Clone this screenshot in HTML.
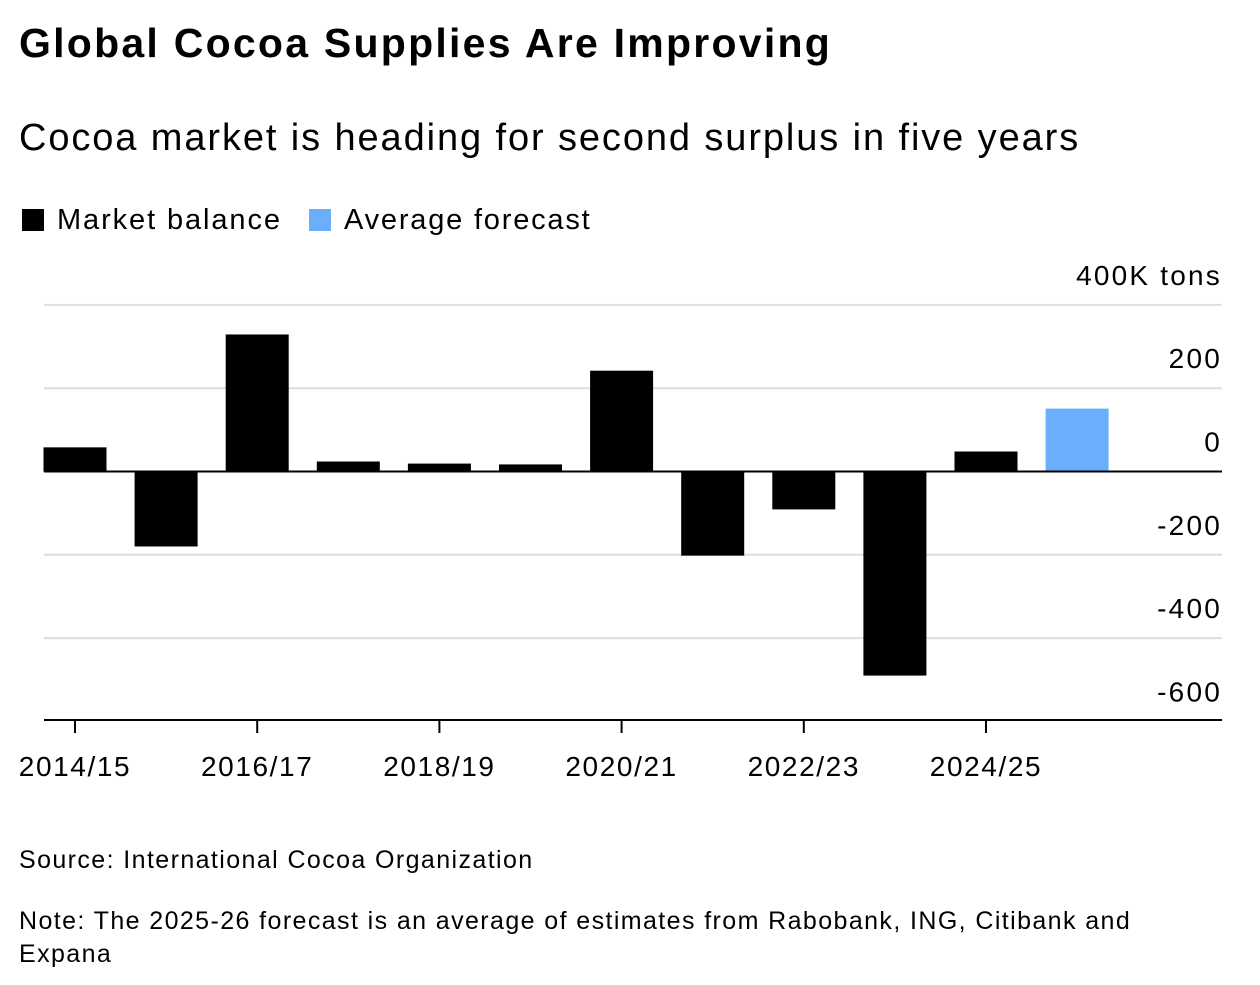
<!DOCTYPE html>
<html><head><meta charset="utf-8"><style>
body{margin:0;background:#fff;width:1260px;height:985px;overflow:hidden;font-family:"Liberation Sans",sans-serif;color:#000}
.t{position:absolute;white-space:nowrap}
</style></head><body>
<div class="t" style="left:19px;top:20px;font-size:41px;font-weight:bold;letter-spacing:2.25px">Global Cocoa Supplies Are Improving</div>
<div class="t" style="left:19px;top:117px;font-size:38px;letter-spacing:1.9px">Cocoa market is heading for second surplus in five years</div>
<div class="t" style="left:22px;top:204px;font-size:29px;letter-spacing:1.9px"><span style="display:inline-block;width:22px;height:22px;background:#000;vertical-align:-2px;margin-right:13px"></span>Market balance</div>
<div class="t" style="left:309px;top:204px;font-size:29px;letter-spacing:1.8px"><span style="display:inline-block;width:22px;height:22px;background:#6aaefc;vertical-align:-2px;margin-right:13px"></span>Average forecast</div>
<svg id="chart" width="1260" height="985" style="position:absolute;left:0;top:0"></svg>
<div class="t" style="left:19px;top:846px;font-size:25px;letter-spacing:1.4px">Source: International Cocoa Organization</div>
<div class="t" style="left:19px;top:905px;font-size:25px;line-height:33px;white-space:normal;width:1150px;letter-spacing:1.4px">Note: The 2025-26 forecast is an average of estimates from Rabobank, ING, Citibank and Expana</div>
<script>
const categories=["2014/15","2015/16","2016/17","2017/18","2018/19","2019/20","2020/21","2021/22","2022/23","2023/24","2024/25","2025/26"];
const balanceValues=[58,-180,329,24,19,17,242,-202,-91,-490,48,null];
const forecastValues=[null,null,null,null,null,null,null,null,null,null,null,151];
const yTicks=[400,200,0,-200,-400,-600];
const yTickLabels=["400K tons","200","0","-200","-400","-600"];
const xTickLabels=["2014/15","","2016/17","","2018/19","","2020/21","","2022/23","","2024/25",""];
const svg=document.getElementById('chart');const NS="http://www.w3.org/2000/svg";
const L=44,R=1222,Y0=471.5,K=83.3/200;
const y=v=>Y0-v*K;
const step=91.1,x=i=>75+i*step,bw=63;
function mk(t,a){const e=document.createElementNS(NS,t);for(const k in a)e.setAttribute(k,a[k]);svg.appendChild(e);return e;}
yTicks.forEach((v,i)=>{
 if(v!==0&&v!==-600){const g=mk('line',{x1:L,x2:R,y1:y(v),y2:y(v),stroke:'#ddd','stroke-width':2});
 
 }
 const t=mk('text',{x:R,y:y(v)-20,'text-anchor':'end','font-size':28,'letter-spacing':2.2,'font-family':'Liberation Sans, sans-serif'});
 t.textContent=yTickLabels[i];
 
 
});
categories.forEach((c,i)=>{
 const v=balanceValues[i]!=null?balanceValues[i]:forecastValues[i];
 if(v==null)return;
 const isF=forecastValues[i]!=null;
 const r=mk('rect',{x:x(i)-bw/2,y:Math.min(y(v),Y0),width:bw,height:Math.abs(y(v)-Y0),fill:isF?'#6aaefc':'#000'});
 
 
});
const z=mk('line',{x1:L,x2:R,y1:Y0,y2:Y0,stroke:'#000','stroke-width':2});


const ax=mk('line',{x1:L,x2:R,y1:720,y2:720,stroke:'#000','stroke-width':2});


xTickLabels.forEach((lab,i)=>{
 if(!lab)return;
 const tk=mk('line',{x1:x(i),x2:x(i),y1:720,y2:733,stroke:'#000','stroke-width':2});
 
 
 const t=mk('text',{x:x(i),y:776,'text-anchor':'middle','font-size':28,'letter-spacing':1.6,'font-family':'Liberation Sans, sans-serif'});
 t.textContent=lab;
 
 
});
</script>
</body></html>
